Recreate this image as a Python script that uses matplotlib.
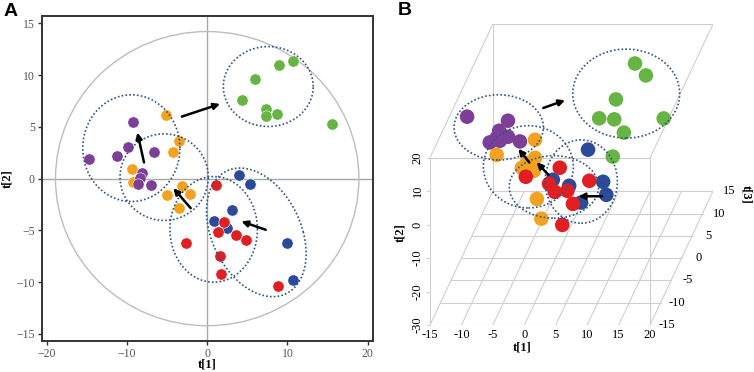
import numpy as np
import matplotlib.pyplot as plt
from matplotlib.patches import Ellipse

plt.rcParams['font.family'] = ['Liberation Serif', 'DejaVu Serif']

c_green = '#66b443'
c_purple = '#7b3f98'
c_orange = '#f2a21f'
c_red = '#e01f23'
c_blue = '#2c4a9a'
c_dots = '#2f5487'

# ---- panel A: score plot t[1] / t[2]
green_a_t1 = [10.65, 9.0, 5.96, 4.38, 7.29, 7.29, 8.7, 15.5]
green_a_t2 = [11.4, 10.95, 9.6, 7.6, 6.7, 6.0, 6.25, 5.3]
orange_a_t1 = [-5.13, -3.51, -4.26, -9.32, -9.2, -3.1, -2.14, -4.97, -3.47]
orange_a_t2 = [6.16, 3.68, 2.59, 0.92, -0.34, -0.76, -1.53, -1.59, -2.85]
purple_a_t1 = [-9.28, -14.73, -11.2, -9.83, -6.58, -8.08, -8.37, -8.66, -7.04]
purple_a_t2 = [5.42, 1.88, 2.14, 3.04, 2.56, 0.59, 0.05, -0.5, -0.6]
blue_a_t1 = [3.93, 5.34, 3.14, 0.89, 2.43, 9.95, 10.65]
blue_a_t2 = [0.34, -0.53, -3.0, -4.1, -4.77, -6.19, -9.76]
red_a_t1 = [1.14, 2.14, 1.31, 3.59, 4.8, -2.68, 1.56, 1.72, 8.83]
red_a_t2 = [-0.63, -4.16, -5.19, -5.45, -5.96, -6.25, -7.44, -9.21, -10.4]

# group ellipses: centre + two conjugate semi-diameters
ell_a_cx = [7.61, -9.45, -5.36, 0.81, 6.12]
ell_a_cy = [8.89, 2.94, 0.14, -4.9, -5.19]
ell_a_u = [(5.6, 0), (6.05, 0), (5.5, 0), (5.45, 0), (5.86, 0)]
ell_a_v = [(0, 3.86), (0, 5.15), (0, 4.18), (0, 5.1), (-2.04, 6.21)]

arr_a_x0 = [-3.16, -7.87, -2.06, 7.29]
arr_a_y0 = [5.99, 1.56, -2.85, -4.94]
arr_a_x1 = [1.6, -8.7, -4.22, 4.26]
arr_a_y1 = [7.21, 4.45, -0.92, -4.13]

t2_radius = (18.9, 14.2)  # Hotelling T2 ellipse

# ---- panel B: 3D scores t[1], t[2], t[3]
green_b_t1 = [8.6, 11.0, 6.9, 4.9, 7.3, 9.5, 14.5, 8.4]
green_b_t2 = [12.2, 11.3, 6.8, 3.8, 3.5, 2.2, 1.1, -2.3]
green_b_t3 = [12, 10, 8, 6, 6, 4, 8, 2]
purple_b_t1 = [-14.1, -7.6, -9.0, -7.6, -10.5, -8.9, -5.7, -9.4]
purple_b_t2 = [12.3, 11.1, 8.1, 6.3, 4.6, 5.1, 4.9, 6.0]
purple_b_t3 = [0, 0, 0, 0, 0, 0, 0, 0]
orange_b_t1 = [-2.3, -8.4, -2.3, -4.4, -2.5, -1.0, -0.3, -3.6]
orange_b_t2 = [9.4, 4.9, 4.0, 1.0, 0.1, -4.3, -10.2, 2.5]
orange_b_t3 = [-3, -3, -3, -3, -3, -6, -6, -3]
red_b_t1 = [2.3, -3.1, 7.0, 0.6, 1.5, 3.5, 4.4, 2.7]
red_b_t2 = [3.7, 1.0, -0.2, -1.1, -3.5, -3.2, -7.1, -13.4]
red_b_t3 = [-5, -5, -5, -5, -5, -5, -5, -5]
blue_b_t1 = [5.8, 8.2, 8.7, 0.2, 2.8, 4.7]
blue_b_t2 = [5.1, -4.5, -8.4, -3.9, -5.7, -10.7]
blue_b_t3 = [-2, -2, -2, -2, -2, -2]

t1_ticks = [-15, -10, -5, 0, 5, 10, 15, 20]
t2_ticks = [-30, -20, -10, 0, 10, 20]
t3_ticks = [-15, -10, -5, 0, 5, 10, 15]

# ellipses and arrows drawn in the picture plane
ell_b_x = [16.2, -4.07, 0.64, 4.7, 9.05]
ell_b_y = [39.2, 29.1, 17.3, 11.3, 12.9]
ell_b_w = [17.0, 14.2, 14.3, 14.2, 11.5]
ell_b_h = [26.6, 19.5, 24.6, 18.7, 24.9]

arr_b_x0 = [3.02, 0.8, 3.82, 12.36]
arr_b_y0 = [34.9, 18.6, 14.9, 8.5]
arr_b_x1 = [6.48, -0.95, 1.97, 8.62]
arr_b_y1 = [37.2, 22.7, 18.7, 8.5]


def proj(t1, t2, t3):
    # oblique projection: depth t3 shifts right and up
    d = np.asarray(t3, dtype=float) + 15
    return np.asarray(t1, dtype=float) + d / 3.0, np.asarray(t2, dtype=float) + d * 4.0 / 3.0


def arrow(ax, x0, y0, x1, y1):
    ax.annotate('', xy=(x1, y1), xytext=(x0, y0),
                arrowprops=dict(arrowstyle='-|>', color='k', lw=1.8,
                                mutation_scale=9, shrinkA=0, shrinkB=0), zorder=6)


fig = plt.figure(figsize=(7.54, 3.72), dpi=100)

# ======================= A
ax = fig.add_axes([0.0553, 0.0841, 0.439, 0.8737])
ax.set_xlim(-20.62, 20.62)
ax.set_ylim(-15.65, 15.73)
ax.axhline(0, color='#a8a8a8', lw=1, zorder=1)
ax.axvline(0, color='#a8a8a8', lw=1, zorder=1)
ax.add_patch(Ellipse((0, 0), 2 * t2_radius[0], 2 * t2_radius[1], fill=False,
                     ec='#bdbdbd', lw=1, zorder=1))

for xs, ys, c in [(green_a_t1, green_a_t2, c_green), (orange_a_t1, orange_a_t2, c_orange),
                  (purple_a_t1, purple_a_t2, c_purple), (blue_a_t1, blue_a_t2, c_blue),
                  (red_a_t1, red_a_t2, c_red)]:
    ax.scatter(xs, ys, s=66, color=c, edgecolors='white', linewidths=0.4, zorder=3)

th = np.linspace(0, 2 * np.pi, 300)
for cx, cy, u, v in zip(ell_a_cx, ell_a_cy, ell_a_u, ell_a_v):
    ex = cx + u[0] * np.cos(th) + v[0] * np.sin(th)
    ey = cy + u[1] * np.cos(th) + v[1] * np.sin(th)
    ax.plot(ex, ey, color=c_dots, lw=1.2, ls=(0, (1, 1.3)), zorder=4)

for i in range(len(arr_a_x0)):
    arrow(ax, arr_a_x0[i], arr_a_y0[i], arr_a_x1[i], arr_a_y1[i])

ax.set_xticks([-20, -10, 0, 10, 20])
ax.set_yticks([-15, -10, -5, 0, 5, 10, 15])
ax.tick_params(direction='out', length=3, width=1, color='#333333',
               labelcolor='#555555', labelsize=8.5, pad=2)
for sp in ax.spines.values():
    sp.set_color('#333333')
    sp.set_linewidth(1.4)
ax.set_xlabel('t[1]', fontsize=9, fontweight='bold', labelpad=-1)
ax.set_ylabel('t[2]', fontsize=9, fontweight='bold', labelpad=2)

# ======================= B
bx = fig.add_axes([0.5703, 0.1263, 0.3753, 0.8091])
bx.set_xlim(-15, 30)
bx.set_ylim(-30, 60)
bx.axis('off')

grid_c = '#cfcfcf'
for t in t1_ticks:
    x, y = proj([t, t], [-30, -30], [-15, 15])
    bx.plot(x, y, color=grid_c, lw=0.8, zorder=1)
for t in t3_ticks:
    x, y = proj([-15, 20], [-30, -30], [t, t])
    bx.plot(x, y, color=grid_c, lw=0.8, zorder=1)
box_edges = [
    ([-15, -15], [-30, 20], [-15, -15]), ([20, 20], [-30, 20], [-15, -15]),
    ([-15, 20], [20, 20], [-15, -15]), ([-15, -15], [20, 20], [-15, 15]),
    ([20, 20], [20, 20], [-15, 15]), ([-15, 20], [20, 20], [15, 15]),
    ([-15, -15], [-30, 20], [15, 15]), ([20, 20], [-30, 20], [15, 15]),
]
for e in box_edges:
    x, y = proj(*e)
    bx.plot(x, y, color=grid_c, lw=0.8, zorder=1)

# points sorted back to front
all_t1 = green_b_t1 + purple_b_t1 + orange_b_t1 + red_b_t1 + blue_b_t1
all_t2 = green_b_t2 + purple_b_t2 + orange_b_t2 + red_b_t2 + blue_b_t2
all_t3 = green_b_t3 + purple_b_t3 + orange_b_t3 + red_b_t3 + blue_b_t3
all_c = ([c_green] * len(green_b_t1) + [c_purple] * len(purple_b_t1) + [c_orange] * len(orange_b_t1)
         + [c_red] * len(red_b_t1) + [c_blue] * len(blue_b_t1))
order = np.argsort(-np.array(all_t3), kind='stable')
px, py = proj(all_t1, all_t2, all_t3)
bx.scatter(px[order], py[order], s=110, c=[all_c[i] for i in order],
           edgecolors='none', zorder=3)

for x, y, w, h in zip(ell_b_x, ell_b_y, ell_b_w, ell_b_h):
    bx.add_patch(Ellipse((x, y), w, h, fill=False, ec=c_dots, lw=1.2,
                         ls=(0, (1, 1.3)), zorder=4))
for i in range(len(arr_b_x0)):
    arrow(bx, arr_b_x0[i], arr_b_y0[i], arr_b_x1[i], arr_b_y1[i])

# tick labels
for t in t1_ticks:
    x, y = proj(t, -30, -15)
    bx.annotate(str(t), (x, y), xytext=(0, -7), textcoords='offset points',
                ha='center', va='center', fontsize=9, annotation_clip=False)
for t in t2_ticks:
    x, y = proj(-15, t, -15)
    bx.plot([x - 0.5, x], [y, y], color=grid_c, lw=0.8, clip_on=False)
    bx.annotate(str(t), (x, y), xytext=(-9, 0), textcoords='offset points',
                ha='center', va='center', rotation=90, fontsize=9, annotation_clip=False)
for t in t3_ticks:
    x, y = proj(20, -30, t)
    bx.annotate(str(t), (x, y), xytext=(12, 0), textcoords='offset points',
                ha='center', va='center', fontsize=9, annotation_clip=False)
x, y = proj(-0.4, -30, -15)
bx.annotate('t[1]', (x, y), xytext=(0, -16), textcoords='offset points',
            ha='center', va='center', fontsize=9, fontweight='bold', annotation_clip=False)
x, y = proj(-15, -2.5, -15)
bx.annotate('t[2]', (x, y), xytext=(-21.5, 0), textcoords='offset points',
            ha='center', va='center', rotation=90, fontsize=9, fontweight='bold',
            annotation_clip=False)
x, y = proj(20, -30, 15)
bx.annotate('t[3]', (x, y), xytext=(24, -2), textcoords='offset points',
            ha='center', va='center', rotation=-90, fontsize=9, fontweight='bold',
            annotation_clip=False)

fig.text(0.004, 0.968, 'A', fontsize=14, fontweight='bold', va='center',
         family=['Liberation Sans', 'DejaVu Sans'])
fig.text(0.527, 0.973, 'B', fontsize=14, fontweight='bold', va='center',
         family=['Liberation Sans', 'DejaVu Sans'])

fig.savefig('out.png', dpi=100)
